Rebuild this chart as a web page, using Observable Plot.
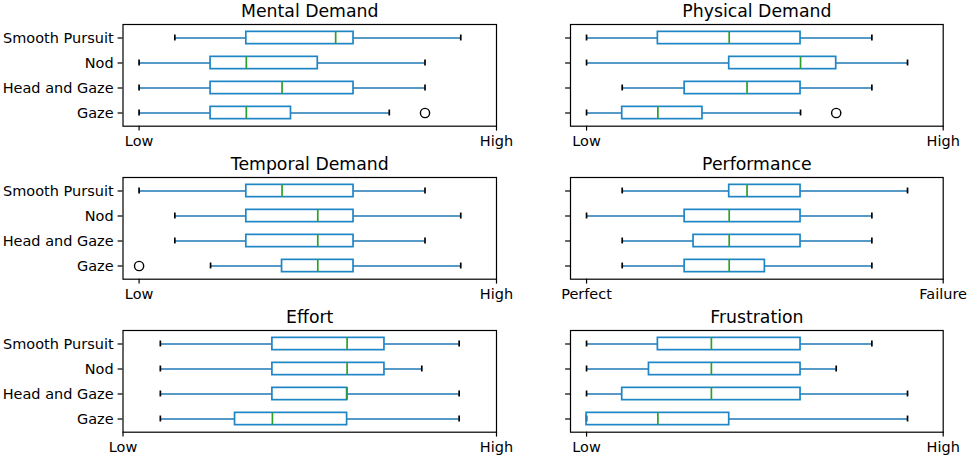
<!DOCTYPE html>
<html>
<head>
<meta charset="utf-8">
<script src="https://cdn.jsdelivr.net/npm/d3@7"></script>
<script src="https://cdn.jsdelivr.net/npm/@observablehq/plot@0.6"></script>
<style>
  html, body { margin: 0; padding: 0; background: #fff; }
  #chart { position: relative; width: 969px; height: 458px; overflow: hidden; background: #fff; }
  #chart svg { position: absolute; overflow: visible; }
</style>
</head>
<body>
<div id="chart"></div>
<script>
// Conditions (top to bottom)
const conditions = ["Smooth Pursuit", "Nod", "Head and Gaze", "Gaze"];
// Panel titles (row-major, 3 rows x 2 columns)
const panelTitles = ["Mental Demand", "Physical Demand", "Temporal Demand", "Performance", "Effort", "Frustration"];
// Tick labels per panel [at 0, at 20]
const tickLabels = [
  ["Low", "High"], ["Low", "High"],
  ["Low", "High"], ["Perfect", "Failure"],
  ["Low", "High"], ["Low", "High"]
];
// Lower x-limit per panel (upper is 20)
const xMin = [-0.9, -0.9, -0.9, -0.9, 0, -0.9];

// Box statistics per condition: [whiskerLow, Q1, median, Q3, whiskerHigh]
const mentalDemand   = [[2, 6, 11, 12, 18], [0, 4, 6, 10, 16], [0, 4, 8, 12, 16], [0, 4, 6, 8.5, 14]];
const physicalDemand = [[0, 4, 8, 12, 16], [0, 8, 12, 14, 18], [2, 5.5, 9, 12, 16], [0, 2, 4, 6.5, 12]];
const temporalDemand = [[0, 6, 8, 12, 16], [2, 6, 10, 12, 18], [2, 6, 10, 12, 16], [4, 8, 10, 12, 18]];
const performance    = [[2, 8, 9, 12, 18], [0, 5.5, 8, 12, 16], [2, 6, 8, 12, 16], [2, 5.5, 8, 10, 16]];
const effort         = [[2, 8, 12, 14, 18], [2, 8, 12, 14, 16], [2, 8, 12, 12, 18], [2, 6, 8, 12, 18]];
const frustration    = [[0, 4, 7, 12, 16], [0, 3.5, 7, 12, 14], [0, 2, 7, 12, 18], [0, 0, 4, 8, 18]];
const panelStats = [mentalDemand, physicalDemand, temporalDemand, performance, effort, frustration];

// Outliers: [panel index, condition, value]
const outliers = [
  [0, "Gaze", 16],
  [1, "Gaze", 14],
  [2, "Gaze", 0]
];

const FONT = "DejaVu Sans, Liberation Sans, sans-serif";
const boxColor = "#1f86c6";
const whiskerColor = "#1f77b4";
const medianColor = "#2ca02c";
const lw = 1.7;
const tickFont = 14.5;
const titleFont = 17.3;

const chart = document.getElementById("chart");
const rowH = 152.8;
const frameH = 101.7;
const bw = frameH / conditions.length;

panelTitles.forEach((title, i) => {
  const col = i % 2, row = Math.floor(i / 2);
  const left = col === 0 ? 0 : 520;
  const width = col === 0 ? 520 : 449;
  const marginLeft = col === 0 ? 122.5 : 50;
  const marginRight = col === 0 ? 24 : 26.3;
  const marginTop = 24;
  const marginBottom = rowH - marginTop - frameH;

  const rows = conditions.map((c, k) => {
    const s = panelStats[i][k];
    return {cond: c, wl: s[0], q1: s[1], med: s[2], q3: s[3], wh: s[4]};
  });
  const outs = outliers.filter(o => o[0] === i).map(o => ({cond: o[1], value: o[2]}));
  const labels = tickLabels[i];
  const capInset = (bw - bw / 4) / 2;

  const svg = Plot.plot({
    width, height: rowH,
    marginLeft, marginRight, marginTop, marginBottom,
    style: {fontFamily: FONT, fontSize: tickFont + "px", color: "#000", background: "transparent"},
    x: {domain: [xMin[i], 20]},
    y: {type: "band", domain: conditions, padding: 0},
    marks: [
      Plot.ruleY(rows, {y: "cond", x1: "wl", x2: "q1", stroke: whiskerColor, strokeWidth: lw}),
      Plot.ruleY(rows, {y: "cond", x1: "q3", x2: "wh", stroke: whiskerColor, strokeWidth: lw}),
      Plot.tickX(rows, {y: "cond", x: "wl", stroke: "#000", strokeWidth: lw, insetTop: capInset, insetBottom: capInset}),
      Plot.tickX(rows, {y: "cond", x: "wh", stroke: "#000", strokeWidth: lw, insetTop: capInset, insetBottom: capInset}),
      Plot.barX(rows, {y: "cond", x1: "q1", x2: "q3", fill: "none", stroke: boxColor, strokeWidth: lw, insetTop: bw / 4, insetBottom: bw / 4}),
      Plot.tickX(rows, {y: "cond", x: "med", stroke: medianColor, strokeWidth: lw, insetTop: bw / 4, insetBottom: bw / 4}),
      Plot.dot(outs, {y: "cond", x: "value", r: 4.6, fill: "none", stroke: "#000", strokeWidth: 1.4}),
      Plot.frame({stroke: "#000", strokeWidth: 1.2}),
      Plot.axisX({ticks: [0, 20], tickFormat: d => (d === 0 ? labels[0] : labels[1]), tickSize: 4.9, tickPadding: 5, label: null, fontSize: tickFont, strokeWidth: 1.2}),
      Plot.axisY({tickSize: 4.9, tickPadding: 4.5, label: null, fontSize: tickFont, strokeWidth: 1.2, tickFormat: col === 0 ? (d => d) : (() => "")}),
      Plot.text([title], {frameAnchor: "top", lineAnchor: "bottom", dy: -7.5, fontSize: titleFont, fill: "#000"})
    ]
  });
  svg.style.left = left + "px";
  svg.style.top = (row * rowH) + "px";
  chart.appendChild(svg);
});
</script>
</body>
</html>
